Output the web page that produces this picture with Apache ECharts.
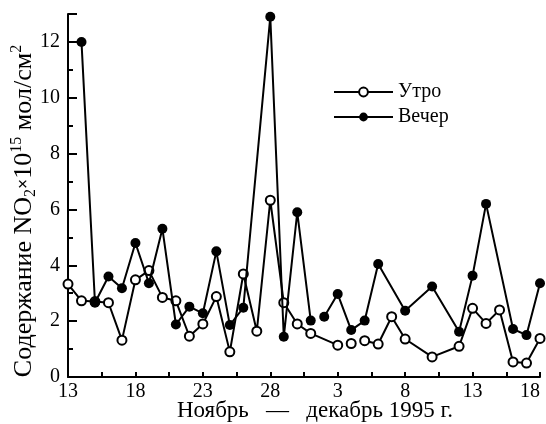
<!DOCTYPE html>
<html>
<head>
<meta charset="utf-8">
<script src="https://cdn.jsdelivr.net/npm/echarts@6/dist/echarts.min.js"></script>
<style>
    html, body { margin: 0; padding: 0; background: #fff; }
    #no2_chart { width: 546px; height: 424px; }
</style>
</head>
<body>
<div id="no2_chart"></div>
<script>
// Day index: 0 = 13 Nov 1995 ... 35 = 18 Dec 1995
var tickLabels = ['13', '18', '23', '28', '3', '8', '13', '18'];

// NO2 column, 10^15 mol/cm2 (null = no observation)
var morning = [
    3.33, 2.73, 2.70, 2.66, 1.32, 3.48, 3.81, 2.85, 2.73, 1.46, 1.90, 2.88,
    0.90, 3.69, 1.64, 6.33, 2.66, 1.90, 1.56, null, 1.14, 1.20, 1.30, 1.18,
    2.16, 1.36, null, 0.72, null, 1.10, 2.46, 1.92, 2.40, 0.54, 0.50, 1.38
];
var evening = [
    null, 12.0, 2.66, 3.60, 3.18, 4.80, 3.36, 5.31, 1.88, 2.52, 2.28, 4.50,
    1.86, 2.48, null, 12.9, 1.44, 5.90, 2.02, 2.16, 2.97, 1.68, 2.02, 4.05,
    null, 2.37, null, 3.24, null, 1.62, 3.63, 6.20, null, 1.72, 1.50, 3.36
];

// Day indices where the plotted line is interrupted (new segment starts)
var morningBreaks = [21, 22];
var eveningBreaks = [19];

var fontFamily = '"Liberation Serif", "DejaVu Serif", serif';

// Split a daily series into [day, value] segments
function toSegments(values, breaks) {
    var segs = [[]];
    values.forEach(function (v, i) {
        if (breaks.indexOf(i) !== -1) {
            segs.push([]);
        }
        if (v !== null) {
            segs[segs.length - 1].push([i, v]);
        }
    });
    return segs;
}

function buildSeries(name, values, breaks, symbol, z) {
    return toSegments(values, breaks).map(function (seg) {
        return {
            name: name,
            type: 'line',
            data: seg,
            z: z,
            symbol: symbol,
            symbolSize: symbol === 'circle' ? 10 : 9,
            showAllSymbol: true,
            lineStyle: { color: '#000', width: 2 },
            itemStyle: { color: '#000', borderWidth: 1.3 }
        };
    });
}

var chart = echarts.init(document.getElementById('no2_chart'), null, { renderer: 'canvas' });

chart.setOption({
    animation: false,
    textStyle: { fontFamily: fontFamily, color: '#000' },

    grid: { left: 68, right: 6, top: 14, bottom: 47, outerBoundsMode: 'none', containLabel: false },

    legend: {
        data: ['Утро', 'Вечер'],
        orient: 'vertical',
        left: 328,
        top: 77,
        itemWidth: 59,
        itemHeight: 11,
        itemGap: 5,
        textStyle: { fontFamily: fontFamily, fontSize: 20, lineHeight: 20, color: '#000' }
    },

    xAxis: {
        type: 'value',
        min: 0,
        max: 35,
        interval: 5,
        name: 'Ноябрь   —   декабрь 1995 г.',
        nameLocation: 'middle',
        nameGap: 22,
        nameMoveOverlap: false,
        nameTextStyle: { fontFamily: fontFamily, fontSize: 23, color: '#000', padding: [0, 0, 0, 22] },
        axisLine: { lineStyle: { color: '#000', width: 2 } },
        axisTick: { inside: true, length: 5, lineStyle: { color: '#000', width: 2 } },
        minorTick: { show: true, splitNumber: 2, length: 5, lineStyle: { color: '#000', width: 2 } },
        axisLabel: {
            fontSize: 20,
            color: '#000',
            margin: 5,
            alignMaxLabel: 'right',
            formatter: function (v) { return tickLabels[v / 5]; }
        },
        splitLine: { show: false }
    },

    yAxis: {
        type: 'value',
        min: 0,
        max: 13,
        interval: 2,
        name: '{a|Содержание NO}{sub|2}{x|×}{a|10}{sup|15}{a| мол/см}{sup|2}',
        nameLocation: 'middle',
        nameGap: 29,
        nameRotate: 90,
        nameMoveOverlap: false,
        nameTextStyle: {
            padding: [0, 31, 0, 0],
            rich: {
                a: { fontFamily: fontFamily, fontSize: 26, lineHeight: 30, color: '#000' },
                sub: { fontFamily: fontFamily, fontSize: 16, lineHeight: 14, verticalAlign: 'bottom', color: '#000' },
                sup: { fontFamily: fontFamily, fontSize: 16, lineHeight: 16, verticalAlign: 'top', color: '#000' },
                x: { fontFamily: fontFamily, fontSize: 18, fontWeight: 'bold', lineHeight: 30, color: '#000' }
            }
        },
        axisLine: { show: true, lineStyle: { color: '#000', width: 2 } },
        axisTick: { inside: true, length: 9, lineStyle: { color: '#000', width: 2 } },
        minorTick: { show: true, splitNumber: 2, length: 5, lineStyle: { color: '#000', width: 2 } },
        axisLabel: {
            fontSize: 20,
            color: '#000',
            margin: 8,
            formatter: function (v) { return v % 2 === 0 ? String(v) : ''; }
        },
        splitLine: { show: false }
    },

    series: buildSeries('Утро', morning, morningBreaks, 'emptyCircle', 2)
        .concat(buildSeries('Вечер', evening, eveningBreaks, 'circle', 3))
});
</script>
</body>
</html>
